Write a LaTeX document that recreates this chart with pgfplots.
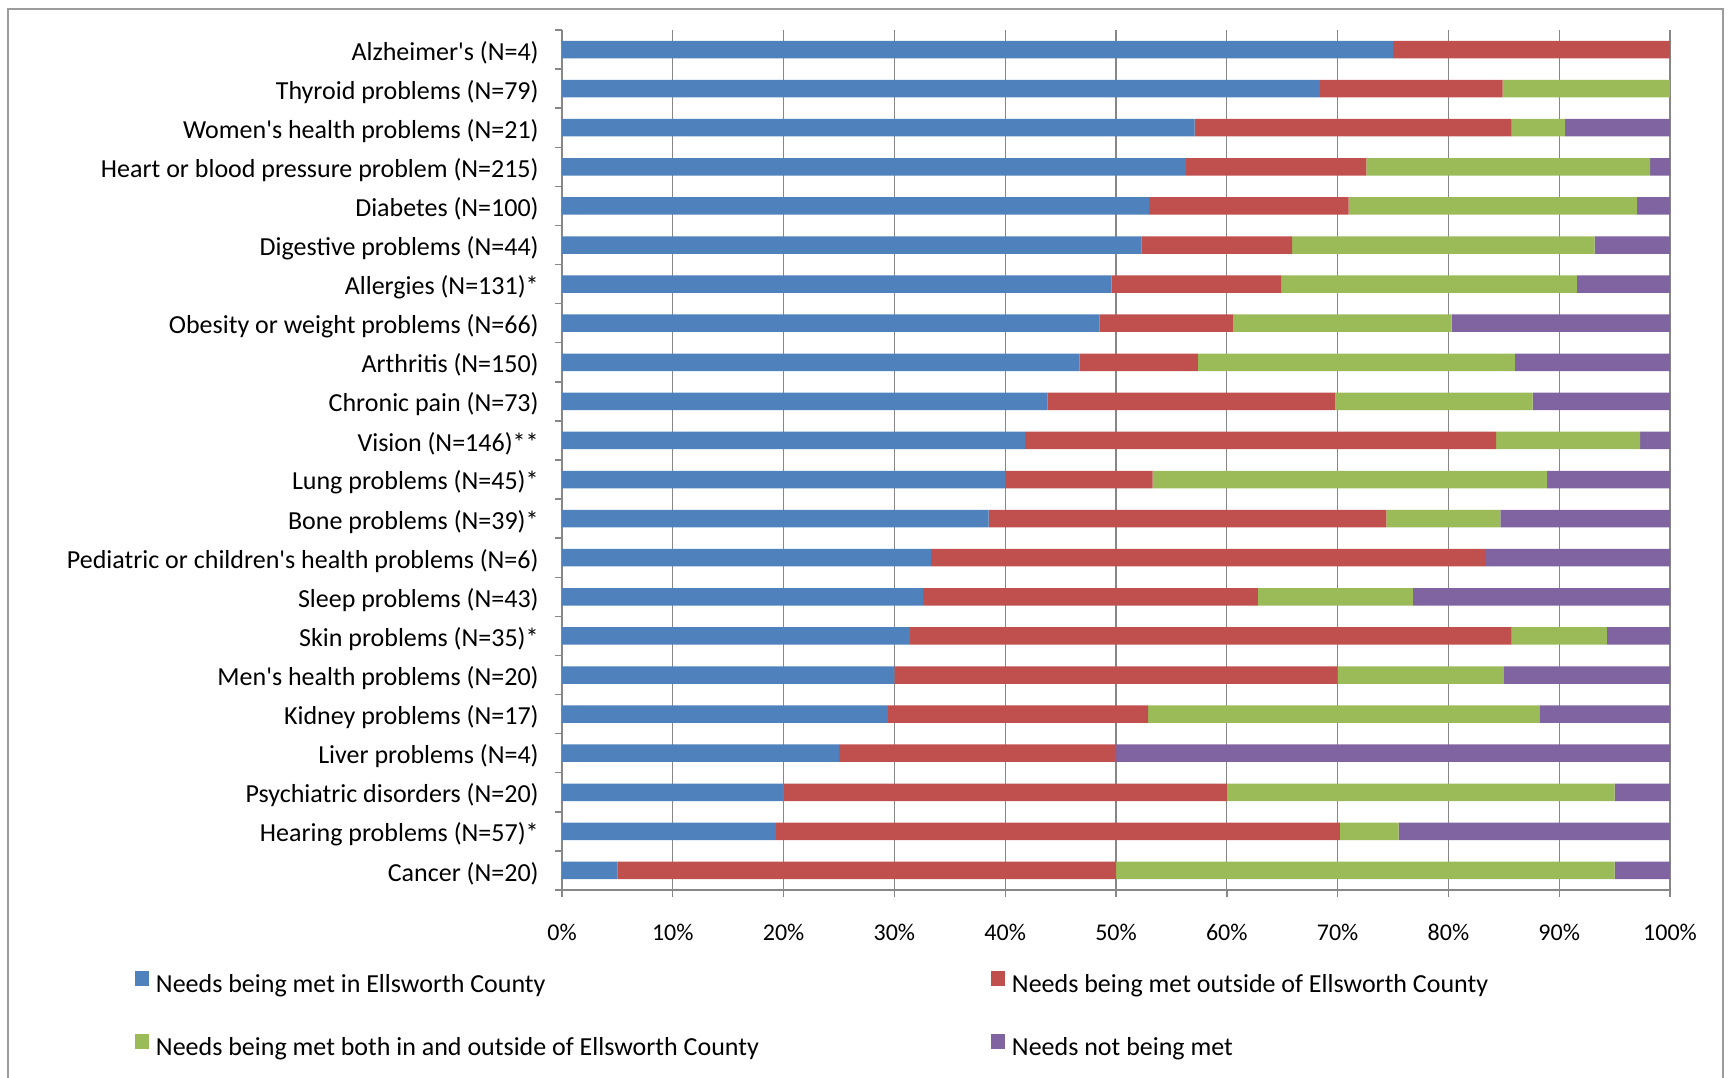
\documentclass[border=0pt]{standalone}
\usepackage{pgfplots}
\pgfplotsset{compat=1.18}
\usepackage{pgfplotstable}
\usepackage{fontspec}
\setmainfont{Carlito}

\definecolor{cblue}{HTML}{4F81BD}
\definecolor{cred}{HTML}{C0504D}
\definecolor{cgreen}{HTML}{9BBB59}
\definecolor{cpurple}{HTML}{8064A2}
\definecolor{axgray}{HTML}{878787}
\definecolor{framegray}{HTML}{9C9C9C}

\pgfplotsset{legsq/.style={legend image code/.code={\fill[##1] (0pt,-0.5pt) rectangle (7pt,7pt);}}}

% Share of respondents (%) per condition: need met in county, outside, both, not met
\pgfplotstableread{
y  met   outside both  unmet
0  75.0  25.0    0.0   0.0
1  68.4  16.5   15.1   0.0
2  57.1  28.6    4.8   9.5
3  56.3  16.3   25.6   1.8
4  53.0  18.0   26.0   3.0
5  52.3  13.6   27.3   6.8
6  49.6  15.3   26.7   8.4
7  48.5  12.1   19.7  19.7
8  46.7  10.7   28.6  14.0
9  43.8  26.0   17.8  12.4
10 41.8  42.5   13.0   2.7
11 40.0  13.3   35.6  11.1
12 38.5  35.9   10.3  15.3
13 33.3  50.0    0.0  16.7
14 32.6  30.2   14.0  23.2
15 31.4  54.3    8.6   5.7
16 30.0  40.0   15.0  15.0
17 29.4  23.5   35.3  11.8
18 25.0  25.0    0.0  50.0
19 20.0  40.0   35.0   5.0
20 19.3  50.9    5.3  24.5
21  5.0  45.0   45.0   5.0
}\datatable

\newcommand{\lf}{\fontsize{13}{15}\selectfont}
\newcommand{\tf}{\fontsize{12}{14}\selectfont}
\newcommand{\q}{\textquotesingle}

\begin{document}
\begin{tikzpicture}
\path[use as bounding box] (-281pt,-93.5pt) rectangle (585pt,445pt);
\draw[framegray, line width=1pt] (-277pt,-120pt) -- (-277pt,440.5pt) -- (580.5pt,440.5pt) -- (580.5pt,-120pt);
\begin{axis}[
  at={(0pt,0pt)}, anchor=south west,
  scale only axis, width=554pt, height=430pt,
  xbar stacked, bar width=8.75pt,
  xmin=0, xmax=100, ymin=-0.5, ymax=21.5,
  enlargelimits=false,
  y dir=reverse,
  axis x line=bottom, axis y line=left,
  axis line style={-, axgray, line width=0.9pt},
  tick align=outside, major tick length=3.5pt,
  tick style={axgray, line width=0.7pt},
  xtick={0,10,...,100},
  xmajorgrids, grid style={axgray, line width=0.6pt},
  /pgf/number format/assume math mode=true,
  xticklabel={\pgfmathprintnumber{\tick}\%},
  xticklabel style={font=\tf, inner sep=0pt, anchor=base, yshift=-21.6pt},
  y tick label as interval,
  ytick={-0.5,0.5,...,21.5},
  yticklabels={Alzheimer\q s (N=4),Thyroid problems (N=79),Women\q s health problems (N=21),Heart or blood pressure problem (N=215),Diabetes (N=100),Digestive problems (N=44),Allergies (N=131)*,Obesity or weight problems (N=66),Arthritis (N=150),Chronic pain (N=73),Vision (N=146)**,Lung problems (N=45)*,Bone problems (N=39)*,Pediatric or children\q s health problems (N=6),Sleep problems (N=43),Skin problems (N=35)*,Men\q s health problems (N=20),Kidney problems (N=17),Liver problems (N=4),Psychiatric disorders (N=20),Hearing problems (N=57)*,Cancer (N=20)},
  yticklabel style={font=\lf, inner sep=0pt, anchor=east, xshift=-8pt, yshift=-1.5pt},
  legend columns=2,
  legend cell align=left,
  legend style={draw=none, fill=none, inner sep=0pt, outer sep=0pt,
    at={(-0.3854,-0.0944)}, anchor=north west,
    nodes={inner sep=0pt}, row sep=19pt, column sep=0pt,
    /tikz/every odd column/.append style={column sep=3.5pt},
    font=\lf},
]
\addplot[fill=cblue, draw=none, legsq] table[x=met, y=y] {\datatable};
\addlegendentry{\makebox[417.5pt][l]{Needs being met in Ellsworth County}}
\addplot[fill=cred, draw=none, legsq] table[x=outside, y=y] {\datatable};
\addlegendentry{Needs being met outside of Ellsworth County}
\addplot[fill=cgreen, draw=none, legsq] table[x=both, y=y] {\datatable};
\addlegendentry{\makebox[417.5pt][l]{Needs being met both in and outside of Ellsworth County}}
\addplot[fill=cpurple, draw=none, legsq] table[x=unmet, y=y] {\datatable};
\addlegendentry{Needs not being met}
\end{axis}
\end{tikzpicture}
\end{document}
